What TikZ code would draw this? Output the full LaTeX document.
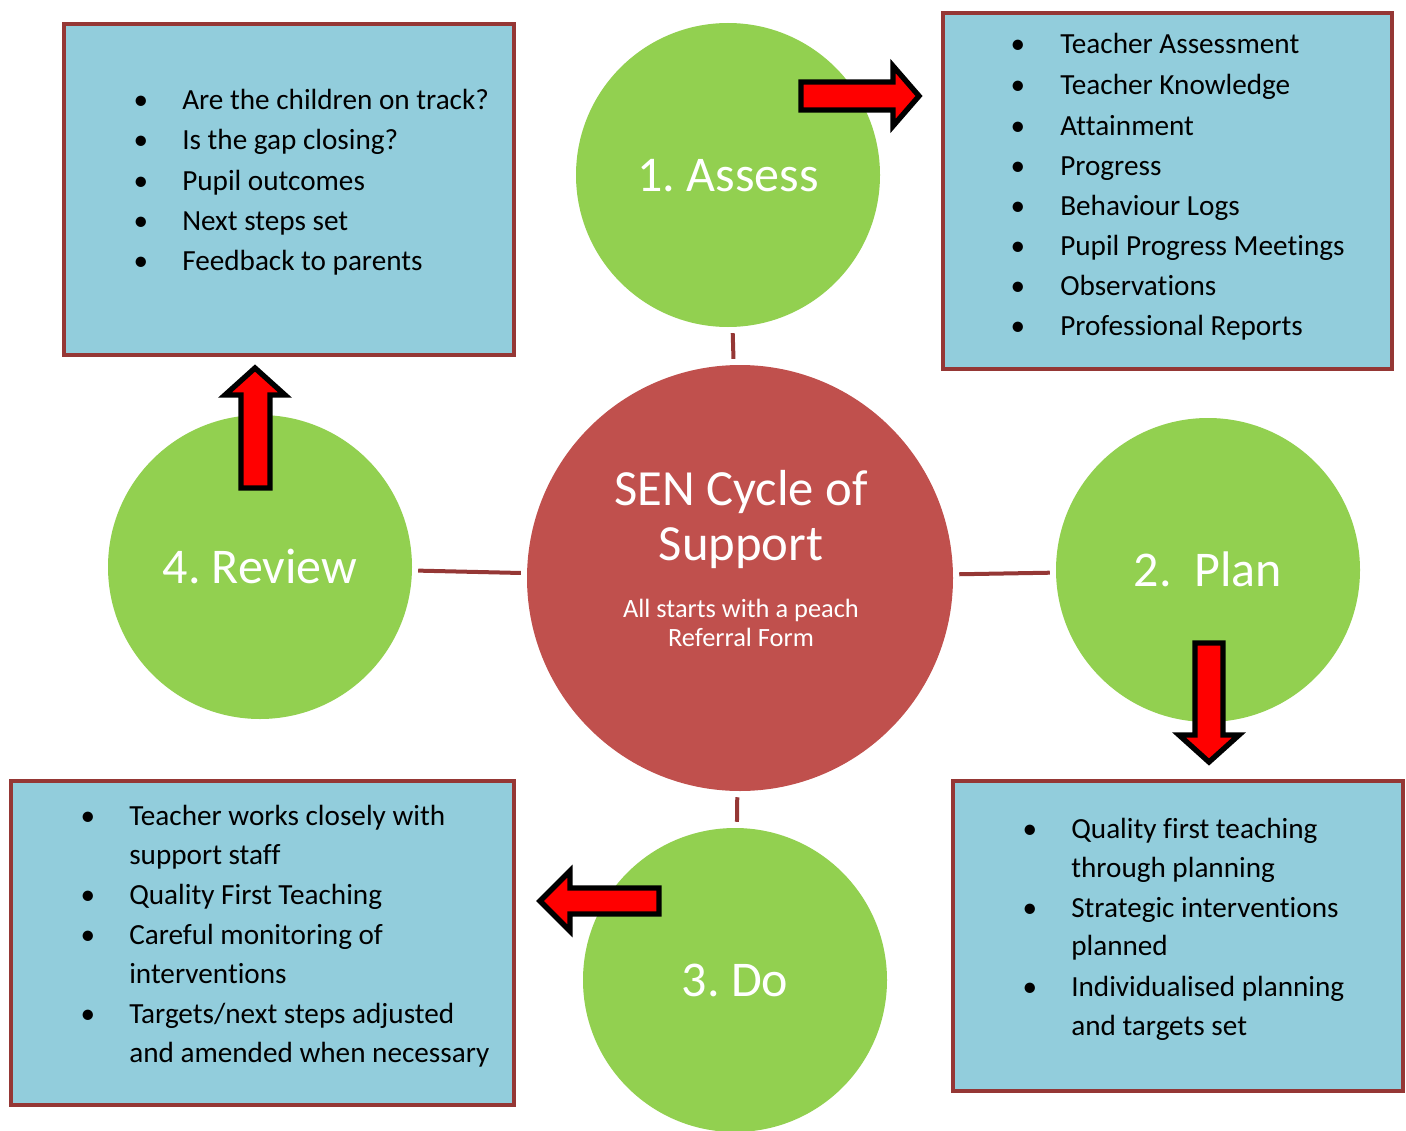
\documentclass[tikz,border=0pt]{standalone}
\usepackage{fontspec}
\setmainfont{Carlito}[Ligatures={NoCommon,NoRequired,NoContextual},RawFeature={-liga;-clig;-rlig;-dlig}]
\frenchspacing
\definecolor{cgreen}{HTML}{92D050}
\definecolor{cblue}{HTML}{92CDDC}
\definecolor{cborder}{HTML}{953735}
\definecolor{cred}{HTML}{C0504D}
\definecolor{arrred}{HTML}{FF0000}
\begin{document}
\frenchspacing
\begin{tikzpicture}[x=0.75pt,y=-0.75pt,
  infobox/.style={draw=cborder,fill=cblue,line width=3.2pt},
  stage/.style={circle,fill=cgreen,inner sep=0pt,minimum size=228pt},
  bigtxt/.style={text=white,font=\fontsize{37.5}{41}\selectfont,anchor=base,inner sep=0pt},
  conn/.style={draw=cborder,line width=3pt,shorten <=4.5pt,shorten >=4.5pt},
  blockarrow/.style={draw=black,fill=arrred,line width=4pt,miter limit=10},
  item/.style={anchor=base west,inner sep=0pt,font=\fontsize{21.9}{26}\selectfont},
  bul/.style={anchor=base,inner sep=0pt,font=\fontsize{21.9}{26}\selectfont}]
\useasboundingbox (0,0) rectangle (1406,1131);

% info boxes
\draw[infobox] (64,24) rectangle (514,355);
\draw[infobox] (943,13) rectangle (1392,369);
\draw[infobox] (953,781) rectangle (1403,1091);
\draw[infobox] (11,781) rectangle (514,1105);

% circles
\node[stage] (assess) at (728,175) {};
\node[stage] (plan) at (1208,570) {};
\node[stage] (do) at (735,980) {};
\node[stage] (review) at (260,567) {};
\node[circle,fill=cred,inner sep=0pt,minimum size=319.5pt] (core) at (740,578) {};

% connectors
\draw[conn] (assess) -- (core);
\draw[conn] (core) -- (plan);
\draw[conn] (core) -- (do);
\draw[conn] (review) -- (core);

% circle texts
\node[bigtxt] (tassess) at (728,191) {1. Assess};
\node[bigtxt] (tplan) at (1208,586) {2.\ \ Plan};
\node[bigtxt] (tdo) at (735,996) {3. Do};
\node[bigtxt] (treview) at (260,583) {4. Review};
\node[bigtxt,font=\fontsize{38}{41.25}\selectfont] (t1) at (741,505) {SEN Cycle of};
\node[bigtxt,font=\fontsize{38}{41.25}\selectfont] (t2) at (741,560) {Support};
\node[bigtxt,font=\fontsize{19.8}{22}\selectfont] (t3) at (741,617) {All starts with a peach};
\node[bigtxt,font=\fontsize{19.8}{22}\selectfont] (t4) at (741,646) {Referral Form};

% block arrows
\draw[blockarrow] (801,82) -- (893,82) -- (893,66) -- (919,96) -- (893,126) -- (893,110) -- (801,110) -- cycle;
\draw[blockarrow] (1195,643) -- (1223,643) -- (1223,735) -- (1239,735) -- (1209,762) -- (1179,735) -- (1195,735) -- cycle;
\draw[blockarrow] (659,888) -- (570,888) -- (570,871) -- (540,901) -- (570,931) -- (570,914) -- (659,914) -- cycle;
\draw[blockarrow] (241,488) -- (241,395) -- (225,395) -- (255,368) -- (285,395) -- (270,395) -- (270,488) -- cycle;

% top-left list
\foreach [count=\i] \yy/\tt in {109/Are the children on track?,149/Is the gap closing?,190/Pupil outcomes,230/Next steps set,270/Feedback to parents}{
  \node[bul] (tlb\i) at (141,\yy) {•};
  \node[item] (tl\i) at (182,\yy) {\tt};
}
% top-right list
\foreach [count=\i] \yy/\tt in {54/Teacher Assessment,94/Teacher Knowledge,135/Attainment,175/Progress,215/Behaviour Logs,255/Pupil Progress Meetings,295/Observations,335/Professional Reports}{
  \node[bul] (trb\i) at (1018,\yy) {•};
  \node[item] (tr\i) at (1060,\yy) {\tt};
}
% bottom-left list
\foreach [count=\i] \yy/\tt in {825/Teacher works closely with,864/support staff,904/Quality First Teaching,944/Careful monitoring of,983/interventions,1023/{Targets/next steps adjusted},1062/and amended when necessary}{
  \node[item] (bl\i) at (129,\yy) {\tt};
}
\foreach [count=\i] \yy in {825,904,944,1023}{
  \node[bul] (blb\i) at (88,\yy) {•};
}
% bottom-right list
\foreach [count=\i] \yy/\tt in {838/Quality first teaching,877/through planning,917/Strategic interventions,955/planned,996/Individualised planning,1035/and targets set}{
  \node[item] (br\i) at (1071,\yy) {\tt};
}
\foreach [count=\i] \yy in {838,917,996}{
  \node[bul] (brb\i) at (1030,\yy) {•};
}
\end{tikzpicture}
\end{document}
